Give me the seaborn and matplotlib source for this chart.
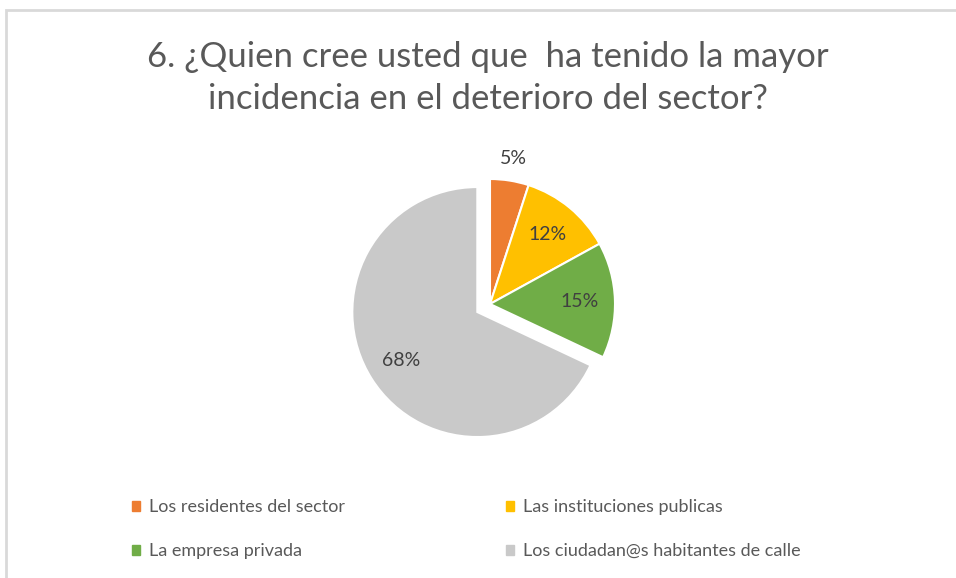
import matplotlib
matplotlib.use("Agg")
import matplotlib.pyplot as plt
import matplotlib.patches as mpatches
import seaborn as sns
import numpy as np

# Survey data

labels = [
    "Los residentes del sector",
    "Las instituciones publicas",
    "La empresa privada",
    "Los ciudadan@s habitantes de calle",
]
shares = [5, 12, 15, 68]
colors = ["#ED7D31", "#FFC000", "#70AD47", "#C9C9C9"]
explode = [0, 0, 0, 0.12]

title = "6. ¿Quien cree usted que  ha tenido la mayor\nincidencia en el deterioro del sector?"

sns.set_style("white")
plt.rcParams["font.family"] = ["Lato", "DejaVu Sans"]

fig = plt.figure(figsize=(9.56, 5.78), dpi=100)

# Chart border (light gray, like the office chart frame)
fig.patches.append(
    mpatches.Rectangle(
        (6 / 956, -0.01), 1.0, 1 - 10 / 578 + 0.01,
        transform=fig.transFigure, fill=False,
        edgecolor="#D9D9D9", linewidth=2
    )
)

ax = fig.add_axes([0.3818, 0.2578, 0.2615, 0.4325])

wedges, texts, autotexts = ax.pie(
    shares,
    colors=colors,
    explode=explode,
    startangle=90,
    counterclock=False,
    autopct="%1.0f%%",
    pctdistance=0.72,
    wedgeprops={"edgecolor": "white", "linewidth": 1.5},
    textprops={"color": "#404040", "fontsize": 14},
)

# Small slice label sits outside the pie
w = wedges[0]
ang = np.deg2rad((w.theta1 + w.theta2) / 2)
autotexts[0].set_position((1.18 * np.cos(ang), 1.18 * np.sin(ang)))

ax.set_xlim(-1, 1)
ax.set_ylim(-1, 1)
ax.set_aspect("auto")
ax.axis("off")

fig.text(
    0.5105, 1 - 78 / 578, title,
    ha="center", va="center",
    fontsize=25, color="#595959", linespacing=1.42
)

# Legend ordered column-wise so rows read like the original
order = [0, 2, 1, 3]
handles = [mpatches.Patch(color=colors[i], label=labels[i]) for i in order]
fig.legend(
    handles=handles,
    loc="upper left",
    bbox_to_anchor=(116 / 956, 1 - 483 / 578),
    ncol=2,
    frameon=False,
    fontsize=13,
    labelcolor="#595959",
    handlelength=0.45,
    handleheight=0.45,
    handletextpad=0.5,
    columnspacing=8.9,
    labelspacing=1.55,
)

plt.savefig("out.png", dpi=100)
